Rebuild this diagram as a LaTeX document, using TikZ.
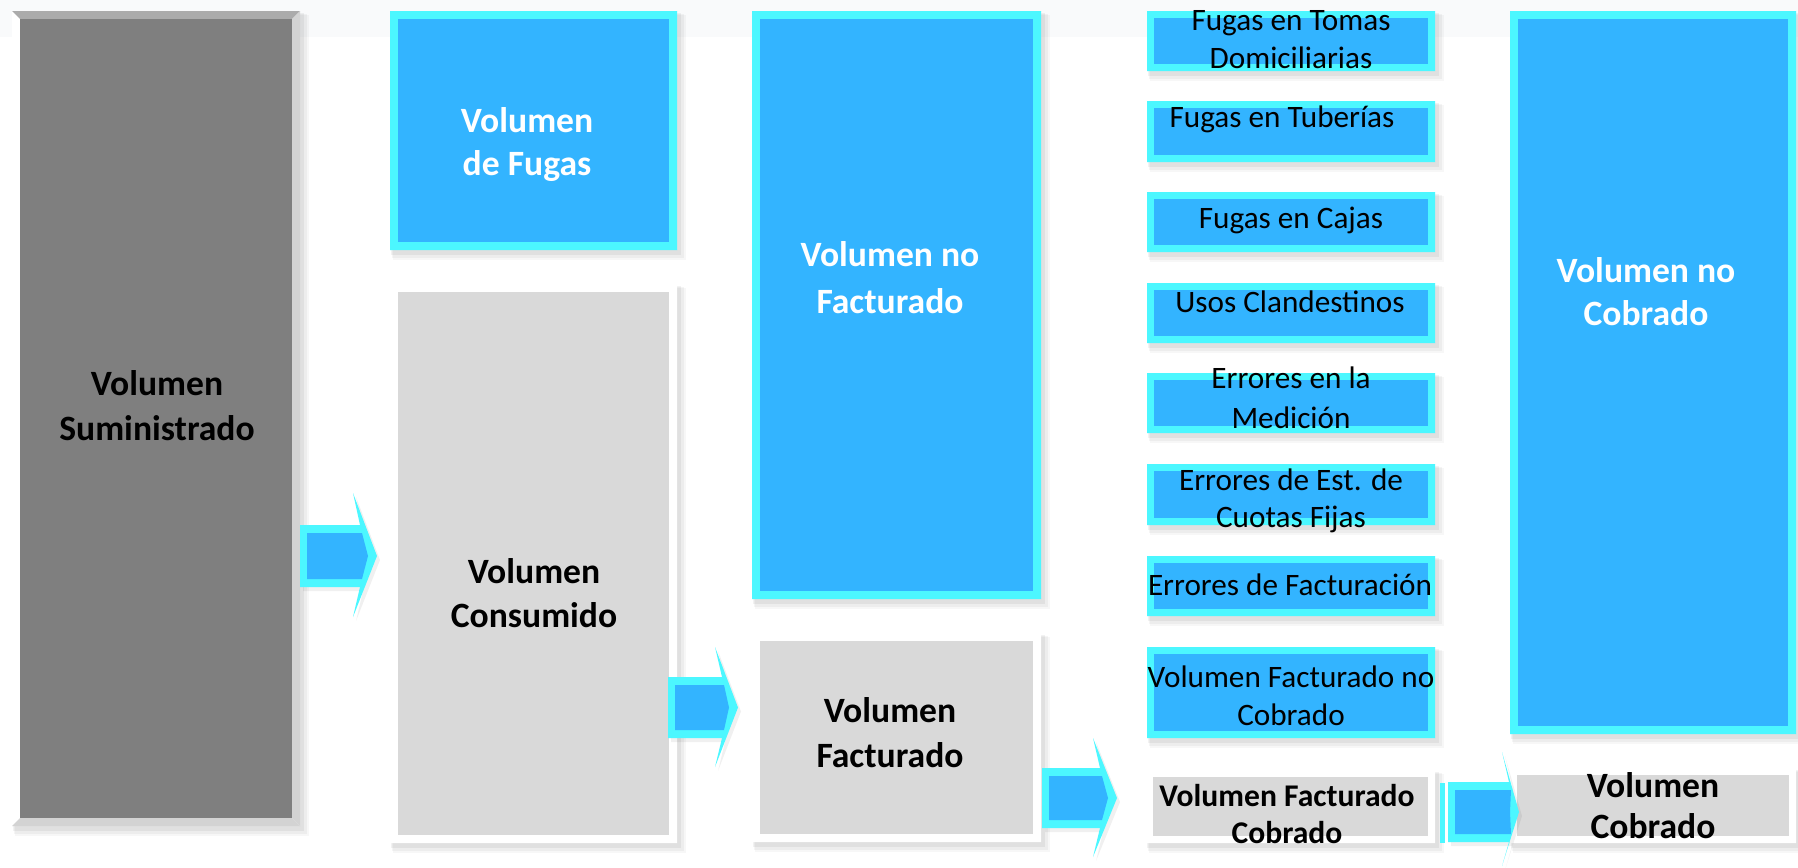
\documentclass[tikz,border=0pt]{standalone}
\usepackage{fontspec}
\setmainfont{Carlito}
\definecolor{cyanb}{HTML}{4CF7FF}
\definecolor{blueb}{HTML}{33B4FF}
\definecolor{dgray}{HTML}{7F7F7F}
\definecolor{dgtop}{HTML}{ABABAB}
\definecolor{dgside}{HTML}{D3D3D3}
\definecolor{lgray}{HTML}{D9D9D9}
\definecolor{topband}{HTML}{F9FAFB}
\tikzset{
  x=0.5pt, y=-0.5pt,
  bx left/.style={fill=cyanb}, bx top/.style={fill=cyanb}, bx right/.style={fill=cyanb}, bx bottom/.style={fill=cyanb}, bx inner/.style={fill=blueb},
  lg left/.style={fill=white}, lg top/.style={fill=white}, lg right/.style={fill=white}, lg bottom/.style={fill=white}, lg inner/.style={fill=lgray},
  dg left/.style={fill=white}, dg top/.style={fill=dgtop}, dg right/.style={fill=dgside}, dg bottom/.style={fill=dgside}, dg inner/.style={fill=dgray},
  bt/.style={font=\fontsize{17.8}{20}\selectfont\bfseries, anchor=base, inner sep=0pt},
  wt/.style={bt, text=white},
  vt/.style={font=\fontsize{15.8}{18}\selectfont\bfseries, anchor=base, inner sep=0pt},
  st/.style={font=\fontsize{15.6}{18}\selectfont, anchor=base, inner sep=0pt},
}
% #1 name, #2 x1, #3 y1, #4 x2, #5 y2, #6 bevel width, #7 kind
\newcommand\bevbox[7]{%
  \fill[black,opacity=.03] (#2+3,#3+4) rectangle (#4+9,#5+10);
  \fill[black,opacity=.04] (#2+2,#3+3) rectangle (#4+7,#5+8);
  \fill[black,opacity=.05] (#2+1,#3+2) rectangle (#4+4,#5+5);
  \fill[#7 left] (#2,#3) rectangle (#4,#5);
  \fill[#7 top] (#2,#3) -- (#4,#3) -- (#4-#6,#3+#6) -- (#2+#6,#3+#6) -- cycle;
  \fill[#7 right] (#4,#3) -- (#4,#5) -- (#4-#6,#5-#6) -- (#4-#6,#3+#6) -- cycle;
  \fill[#7 bottom] (#2,#5) -- (#4,#5) -- (#4-#6,#5-#6) -- (#2+#6,#5-#6) -- cycle;
  \node[#7 inner, anchor=north west, inner sep=0pt, outer sep=0pt,
        minimum width={(#4-#2-2*#6)*0.5pt}, minimum height={(#5-#3-2*#6)*0.5pt}] (#1) at (#2+#6,#3+#6) {};
}
% #1 name, #2 x0, #3 s1, #4 s2, #5 xb, #6 xw, #7 xt, #8 ytop, #9 ybot
\newcommand\blockarr[9]{%
  \pgfmathsetmacro\amid{(#3+#4)/2}
  \fill[black,opacity=.06] (#2+3,#3+4) -- (#6+3,#3+4) -- (#5+3,#8+4) -- (#7+3,\amid+4) -- (#5+3,#9+4) -- (#6+3,#4+4) -- (#2+3,#4+4) -- cycle;
  \fill[cyanb] (#2,#3) -- (#6,#3) -- (#5,#8) -- (#7,\amid) -- (#5,#9) -- (#6,#4) -- (#2,#4) -- cycle;
  \fill[blueb] (#2+7,#3+8) -- (#6+2,#3+8) -- (#7-9,\amid) -- (#6+2,#4-8) -- (#2+7,#4-8) -- cycle;
  \coordinate (#1) at (#7,\amid);
}
\begin{document}
\begin{tikzpicture}
\useasboundingbox (0,0) rectangle (1798,867);
\fill[white] (0,0) rectangle (1798,867);
\fill[topband] (0,0) rectangle (1798,37);
% main boxes
\bevbox{sum}{12}{11}{300}{826}{8}{dg}
\bevbox{fug}{390}{11}{677}{250}{8}{bx}
\bevbox{con}{390}{284}{677}{843}{8}{lg}
\bevbox{nfa}{752}{11}{1041}{599}{8}{bx}
\bevbox{fac}{752}{633}{1041}{842}{8}{lg}
\bevbox{nco}{1510}{11}{1796}{734}{8}{bx}
\bevbox{cob}{1510}{768}{1796}{843}{7}{lg}
% small boxes
\bevbox{s1}{1147}{11}{1435}{71}{7}{bx}
\bevbox{s2}{1147}{101}{1435}{162}{7}{bx}
\bevbox{s3}{1147}{192}{1435}{252}{7}{bx}
\bevbox{s4}{1147}{283}{1435}{343}{7}{bx}
\bevbox{s5}{1147}{373}{1435}{433}{7}{bx}
\bevbox{s6}{1147}{464}{1435}{525}{7}{bx}
\bevbox{s7}{1147}{556}{1435}{616}{7}{bx}
\bevbox{s8}{1147}{647}{1435}{738}{7}{bx}
\bevbox{vfc}{1146}{770}{1435}{843}{7}{lg}
% arrows
\blockarr{a1}{300}{525}{587}{353}{360}{377}{493}{617}
\blockarr{a2}{668}{677}{738}{715}{722}{738}{647}{767}
\blockarr{a3}{1042}{768}{828}{1093}{1100}{1117}{738}{857}
\fill[cyanb] (1440,783) rectangle (1445,843);
\blockarr{a4}{1448}{782}{842}{1502}{1509}{1519}{752}{866}
% texts
\node[bt] (sumA) at (157,395) {Volumen};
\node[bt] (sumB) at (157,440) {Suministrado};
\node[wt] (fugA) at (527,132) {Volumen};
\node[wt] (fugB) at (527,175) {de Fugas};
\node[bt] (conA) at (534,583) {Volumen};
\node[bt] (conB) at (534,627) {Consumido};
\node[wt] (nfaA) at (890,266) {Volumen no};
\node[wt] (nfaB) at (890,313) {Facturado};
\node[bt] (facA) at (890,722) {Volumen};
\node[bt] (facB) at (890,767) {Facturado};
\node[wt] (ncoA) at (1646,282) {Volumen no};
\node[wt] (ncoB) at (1646,325) {Cobrado};
\node[bt] (cobA) at (1653,797) {Volumen};
\node[bt] (cobB) at (1653,838) {Cobrado};
\node[vt] (vfcA) at (1287,806) {Volumen Facturado};
\node[vt] (vfcB) at (1287,843) {Cobrado};
\node[st] (s1A) at (1291,31) {Fugas en Tomas};
\node[st] (s1B) at (1291,68) {Domiciliarias};
\node[st] (s2A) at (1282,127) {Fugas en Tuberías};
\node[st] (s3A) at (1291,228) {Fugas en Cajas};
\node[st] (s4A) at (1290,312) {Usos Clandestinos};
\node[st] (s5A) at (1291,388) {Errores en la};
\node[st] (s5B) at (1291,428) {Medición};
\node[st] (s6A) at (1291,490) {Errores de Est. de};
\node[st] (s6B) at (1291,527) {Cuotas Fijas};
\node[st] (s7A) at (1290,595) {Errores de Facturación};
\node[st] (s8A) at (1291,687) {Volumen Facturado no};
\node[st] (s8B) at (1291,725) {Cobrado};
\end{tikzpicture}
\end{document}
